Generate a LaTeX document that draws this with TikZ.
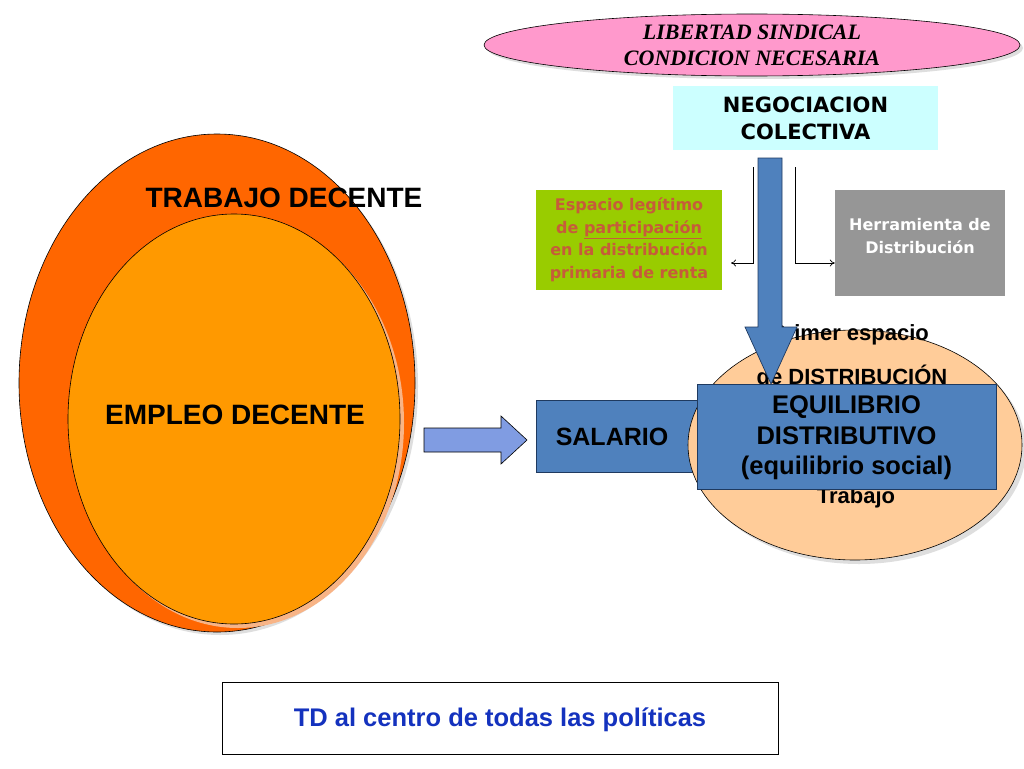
\documentclass[tikz,border=0pt]{standalone}
\usepackage{fontspec}
\setmainfont{Liberation Sans}
\newfontfamily\verd{DejaVu Sans}
\newfontfamily\tms{Liberation Serif}
\usetikzlibrary{shapes.geometric,arrows.meta}
\definecolor{pinkc}{HTML}{FF99CC}
\definecolor{cyanc}{HTML}{CCFFFF}
\definecolor{greenc}{HTML}{99CC00}
\definecolor{greentxt}{RGB}{198,92,58}
\definecolor{greyc}{HTML}{969696}
\definecolor{outerc}{HTML}{FF6600}
\definecolor{innerc}{HTML}{FF9900}
\definecolor{innershadow}{HTML}{F8B486}
\definecolor{peach}{HTML}{FFCC99}
\definecolor{bluec}{HTML}{4F81BD}
\definecolor{blueline}{HTML}{1F3A60}
\definecolor{arrowc}{RGB}{128,156,226}
\definecolor{tdblue}{RGB}{20,50,190}
\definecolor{shadowc}{gray}{0.87}
\begin{document}
\begin{tikzpicture}[x=1pt,y=-1pt,
  ell/.style={ellipse,draw=black,line width=0.6pt,inner sep=0pt},
  shad/.style={ellipse,fill=shadowc,inner sep=0pt},
  arialb/.style={font=\bfseries\fontsize{#1}{30}\selectfont},
  boxtxt/.style={align=center,font=\verd\bfseries\fontsize{16}{22.5}\selectfont},
  thin/.style={line width=0.7pt,-{To[length=5pt,width=7pt]}},
  bluebox/.style={fill=bluec,draw=blueline,line width=0.7pt}
]
\useasboundingbox (0,0) rectangle (1024,768);
\fill[white] (0,0) rectangle (1024,768);

% top ellipse
\node[shad,minimum width=536pt,minimum height=62pt] at (755,48) {};
\node[ell,fill=pinkc,minimum width=536pt,minimum height=62pt,align=center,
  font=\tms\bfseries\itshape\fontsize{22}{26}\selectfont] (lib) at (752,45)
  {LIBERTAD SINDICAL\\CONDICION NECESARIA};

% negociacion
\node[fill=cyanc,minimum width=265pt,minimum height=64pt,inner sep=0pt,align=center,
  font=\verd\bfseries\fontsize{21}{27}\selectfont] (neg) at (805.5,118)
  {NEGOCIACION\\COLECTIVA};

% green box
\node[fill=greenc,minimum width=186pt,minimum height=100pt,inner sep=0pt,
  boxtxt,text=greentxt] (esp) at (629,240)
  {Espacio legítimo\\de \underline{participación}\\en la distribución\\primaria de renta};

% grey box
\node[fill=greyc,minimum width=170pt,minimum height=106pt,inner sep=0pt] (herr) at (920,243) {};
\node[boxtxt,text=white] (herrt) at (920,236) {Herramienta de\\Distribución};

% thin arrows
\coordinate (l1) at (753,167);
\coordinate (l2) at (753,263);
\coordinate (l3) at (731,263);
\coordinate (r1) at (795,167);
\coordinate (r2) at (795,263);
\draw[thin] (l1) -- (l2) -- (l3);
\draw[thin] (r1) -- (r2) -- (herr.west |- r2);

% big left ellipses
\node[shad,minimum width=396pt,minimum height=498pt] at (220,386) {};
\node[ell,fill=outerc,minimum width=396pt,minimum height=498pt] (td) at (217,383) {};
\node[ellipse,fill=innershadow,inner sep=0pt,minimum width=332pt,minimum height=410pt] at (238,423) {};
\node[ell,fill=innerc,minimum width=332pt,minimum height=410pt] (ed) at (234,419) {};
\node[arialb=28] (tdt) at (284,198) {TRABAJO DECENTE};
\node[arialb=28] (edt) at (235,415) {EMPLEO DECENTE};

% block arrow
\draw[fill=arrowc,draw=black,line width=0.6pt]
  (424,428) -- (501,428) -- (501,416) -- (527,440) -- (501,464) -- (501,452) -- (424,452) -- cycle;

% salario box (under the ellipse)
\path[bluebox] (536,400) rectangle (720,472);
\node[arialb=25] (sal) at (612,437) {SALARIO};

% right ellipse
\node[shad,minimum width=334pt,minimum height=230pt] at (859,449) {};
\node[ell,fill=peach,minimum width=334pt,minimum height=230pt] (dist) at (855,445) {};
\node[arialb=22] (p1) at (850,335) {Primer espacio};
\node[arialb=22] (p2) at (852,375) {de DISTRIBUCIÓN};
\node[arialb=22] (p3) at (856,498) {Trabajo};

% vertical blue arrow
\draw[fill=bluec,draw=blueline,line width=0.7pt]
  (758,158) -- (782,158) -- (782,327) -- (797,327) -- (771,384) -- (745,327) -- (758,327) -- cycle;

% equilibrio box
\path[bluebox] (697,384) rectangle (996,489);
\node[align=center,font=\bfseries\fontsize{25.5}{30.5}\selectfont] (eq) at (846.5,438)
  {EQUILIBRIO\\DISTRIBUTIVO\\(equilibrio social)};

% bottom box
\path[draw=black,line width=0.8pt,fill=white] (222,682) rectangle (778,754);
\node[text=tdblue,font=\bfseries\fontsize{25.5}{30}\selectfont] (tdc) at (500,720)
  {TD al centro de todas las políticas};
\end{tikzpicture}
\end{document}
